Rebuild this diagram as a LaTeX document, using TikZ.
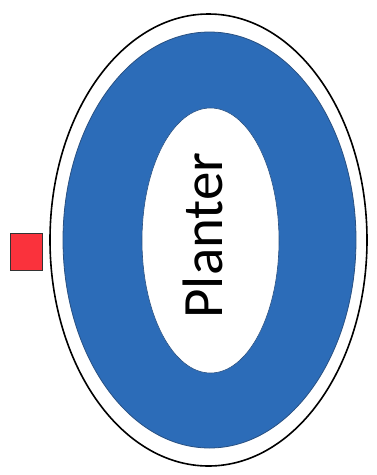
\documentclass[tikz,border=0pt]{standalone}
\usepackage{fontspec}
\setmainfont{Carlito}
\definecolor{ringblue}{RGB}{44,108,184}
\definecolor{ringedge}{RGB}{40,80,130}
\definecolor{sqred}{RGB}{250,50,60}
\begin{document}
\begin{tikzpicture}[x=1pt,y=-1pt,
  outer/.style={draw=black,line width=1.6pt,fill=white},
  ring/.style={draw=ringedge,line width=0.8pt,fill=ringblue},
  hole/.style={draw=ringedge,line width=0.6pt,fill=white},
  marker/.style={draw=black!80,line width=1.2pt,fill=sqred,minimum width=32pt,minimum height=37pt,inner sep=0pt}]
\useasboundingbox (0,0) rectangle (377,475);
\fill[white] (0,0) rectangle (377,475);
\draw[outer] (208.5,240) ellipse [x radius=158.5, y radius=226];
\draw[ring] (209.5,240) ellipse [x radius=146.5, y radius=208];
\draw[hole] (210.5,240.5) ellipse [x radius=68.5, y radius=132.5];
\node[rotate=90,font=\fontsize{57}{60}\selectfont,inner sep=0pt] (label) at (203,235.5) {Planter};
\node[marker] (sq) at (26.5,252) {};
\end{tikzpicture}
\end{document}
